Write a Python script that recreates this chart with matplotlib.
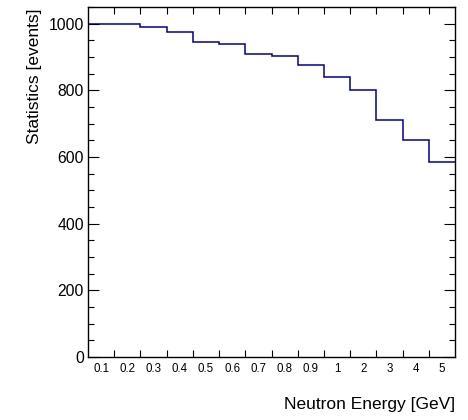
import matplotlib
matplotlib.use("Agg")
import matplotlib.pyplot as plt
from matplotlib.ticker import MultipleLocator, FixedLocator, FixedFormatter, NullFormatter

# Energy bins and event counts per bin
bin_labels = ["0.1", "0.2", "0.3", "0.4", "0.5", "0.6", "0.7", "0.8", "0.9",
              "1", "2", "3", "4", "5"]
counts = [1000, 999, 990, 976, 945, 940, 910, 904, 875, 839, 800, 712, 650, 586]

plt.rcParams["font.family"] = ["Liberation Sans", "DejaVu Sans"]

fig = plt.figure(figsize=(4.68, 4.20), dpi=100)
W, H = 468, 420
left, right, top, bottom = 88, 455, 7, 357
ax = fig.add_axes([left / W, 1 - bottom / H, (right - left) / W, (bottom - top) / H])

n = len(counts)
edges = list(range(n + 1))
ax.stairs(counts, edges, baseline=None, color="#000099", linewidth=1.1)

ax.set_xlim(0, n)
ax.set_ylim(0, 1050)

# x: ticks at bin edges, labels at bin centres
ax.xaxis.set_major_locator(FixedLocator(edges[1:-1]))
ax.xaxis.set_major_formatter(NullFormatter())
ax.xaxis.set_minor_locator(FixedLocator([i + 0.5 for i in range(n)]))
ax.xaxis.set_minor_formatter(FixedFormatter(bin_labels))
ax.tick_params(axis="x", which="major", direction="in", length=5, width=0.8,
               top=True, bottom=True)
ax.tick_params(axis="x", which="minor", length=0, labelsize=8.3, pad=4.5)

# y: ROOT-like major/minor ticks on both sides
ax.yaxis.set_major_locator(MultipleLocator(200))
ax.yaxis.set_minor_locator(MultipleLocator(50))
ax.tick_params(axis="y", which="major", direction="in", length=8, width=0.8,
               left=True, right=True, labelsize=11.3, pad=3)
ax.tick_params(axis="y", which="minor", direction="in", length=4, width=0.8,
               left=True, right=True)

for s in ax.spines.values():
    s.set_linewidth(1.0)

fig.text(right / W, 1 - 405 / H, "Neutron Energy [GeV]", ha="right", va="center",
         fontsize=12.5)
fig.text(35 / W, 1 - 8 / H, "Statistics [events]", ha="center", va="top",
         rotation=90, fontsize=12.5)

fig.savefig("out.png", dpi=100)
